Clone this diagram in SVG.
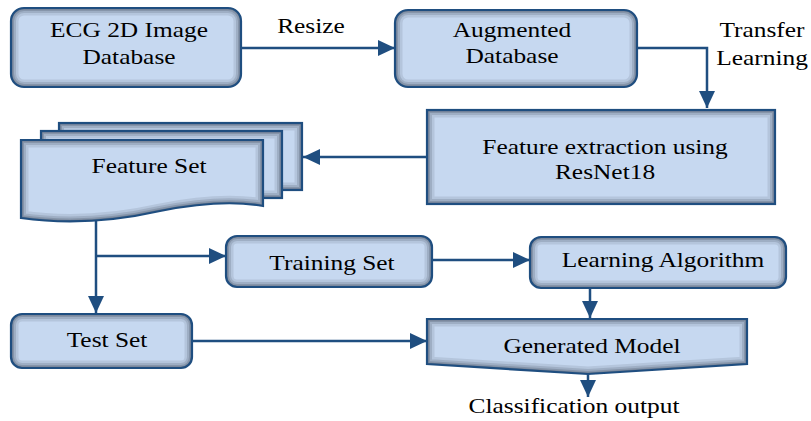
<svg xmlns="http://www.w3.org/2000/svg" width="811" height="421" viewBox="0 0 811 421">
<style>
.f{fill:#c6d8f0;stroke:none}
.e{fill:none;stroke:#1f4e80;stroke-width:2.2}
.s1{fill:none;stroke:#3c4656;stroke-width:15;stroke-opacity:0.13}
.s2{fill:none;stroke:#3c4656;stroke-width:10;stroke-opacity:0.18}
.s3{fill:none;stroke:#3c4656;stroke-width:6;stroke-opacity:0.24}
.s4{fill:none;stroke:#3c4656;stroke-width:3;stroke-opacity:0.3}
.t{font-family:"Liberation Serif","Times New Roman",serif;font-size:21px;fill:#000;text-anchor:middle}
.c{fill:none;stroke:#1f4e80;stroke-width:2.5}
.a{marker-end:url(#ah)}
</style>
<defs>
<rect id="g1" x="11" y="8" width="230" height="79" rx="13"/>
<rect id="g2" x="395" y="10" width="242" height="77" rx="13"/>
<rect id="g3" x="427" y="110" width="348" height="94"/>
<rect id="g4a" x="59" y="123" width="243" height="67"/>
<rect id="g4b" x="41" y="131" width="241" height="67"/>
<path id="g4c" d="M21,140 H263 V206 C235,201 200,203 160,211 C120,220 70,225 21,218 Z"/>
<rect id="g5" x="226" y="236" width="206" height="51" rx="11"/>
<rect id="g6" x="530" y="237" width="256" height="51" rx="11"/>
<rect id="g7" x="11" y="314" width="181" height="54" rx="11"/>
<path id="g8" d="M427,319 H747 V364 L588,374 L427,364 Z"/>
<clipPath id="c1"><use href="#g1"/></clipPath>
<clipPath id="c2"><use href="#g2"/></clipPath>
<clipPath id="c3"><use href="#g3"/></clipPath>
<clipPath id="c4a"><use href="#g4a"/></clipPath>
<clipPath id="c4b"><use href="#g4b"/></clipPath>
<clipPath id="c4c"><use href="#g4c"/></clipPath>
<clipPath id="c5"><use href="#g5"/></clipPath>
<clipPath id="c6"><use href="#g6"/></clipPath>
<clipPath id="c7"><use href="#g7"/></clipPath>
<clipPath id="c8"><use href="#g8"/></clipPath>
<marker id="ah" markerUnits="userSpaceOnUse" markerWidth="17" markerHeight="16" refX="17" refY="8" orient="auto">
<path d="M0,0 L17,8 L0,16 Z" fill="#1f4e80"/>
</marker>
</defs>

<g id="connectors">
<path class="c a" d="M241,48 H395"/>
<path class="c a" d="M637,48 H707 V108"/>
<path class="c a" d="M427,157 H303"/>
<path class="c a" d="M96,220 V313"/>
<path class="c a" d="M96,256 H226"/>
<path class="c a" d="M432,260 H530"/>
<path class="c a" d="M590,288 V318"/>
<path class="c a" d="M192,341 H427"/>
<path class="c a" d="M588,374 V397"/>
</g>

<g id="n-ecg">
<use href="#g1" class="f"/>
<g clip-path="url(#c1)"><use href="#g1" class="s1"/><use href="#g1" class="s2"/><use href="#g1" class="s3"/><use href="#g1" class="s4"/></g>
<use href="#g1" class="e"/>
<text class="t" transform="translate(129,37) scale(1.21,1)">ECG 2D Image</text>
<text class="t" transform="translate(129,64) scale(1.21,1)">Database</text>
</g>

<g id="n-aug">
<use href="#g2" class="f"/>
<g clip-path="url(#c2)"><use href="#g2" class="s1"/><use href="#g2" class="s2"/><use href="#g2" class="s3"/><use href="#g2" class="s4"/></g>
<use href="#g2" class="e"/>
<text class="t" transform="translate(512,37) scale(1.21,1)">Augmented</text>
<text class="t" transform="translate(512,63) scale(1.21,1)">Database</text>
</g>

<g id="lbl-resize">
<text class="t" transform="translate(311,33) scale(1.21,1)">Resize</text>
</g>
<g id="lbl-transfer">
<text class="t" transform="translate(762,37) scale(1.21,1)">Transfer</text>
<text class="t" transform="translate(762,65) scale(1.21,1)">Learning</text>
</g>

<g id="n-feat">
<use href="#g3" class="f"/>
<g clip-path="url(#c3)"><use href="#g3" class="s1"/><use href="#g3" class="s2"/><use href="#g3" class="s3"/><use href="#g3" class="s4"/></g>
<use href="#g3" class="e"/>
<text class="t" transform="translate(605,154) scale(1.21,1)">Feature extraction using</text>
<text class="t" transform="translate(605,179) scale(1.21,1)">ResNet18</text>
</g>

<g id="n-featset">
<use href="#g4a" class="f"/>
<g clip-path="url(#c4a)"><use href="#g4a" class="s1"/><use href="#g4a" class="s2"/><use href="#g4a" class="s3"/><use href="#g4a" class="s4"/></g>
<use href="#g4a" class="e"/>
<use href="#g4b" class="f"/>
<g clip-path="url(#c4b)"><use href="#g4b" class="s1"/><use href="#g4b" class="s2"/><use href="#g4b" class="s3"/><use href="#g4b" class="s4"/></g>
<use href="#g4b" class="e"/>
<use href="#g4c" class="f"/>
<g clip-path="url(#c4c)"><use href="#g4c" class="s1"/><use href="#g4c" class="s2"/><use href="#g4c" class="s3"/><use href="#g4c" class="s4"/></g>
<use href="#g4c" class="e"/>
<text class="t" transform="translate(149,173) scale(1.21,1)">Feature Set</text>
</g>

<g id="n-train">
<use href="#g5" class="f"/>
<g clip-path="url(#c5)"><use href="#g5" class="s1"/><use href="#g5" class="s2"/><use href="#g5" class="s3"/><use href="#g5" class="s4"/></g>
<use href="#g5" class="e"/>
<text class="t" transform="translate(332,270) scale(1.21,1)">Training Set</text>
</g>

<g id="n-learn">
<use href="#g6" class="f"/>
<g clip-path="url(#c6)"><use href="#g6" class="s1"/><use href="#g6" class="s2"/><use href="#g6" class="s3"/><use href="#g6" class="s4"/></g>
<use href="#g6" class="e"/>
<text class="t" transform="translate(663,267) scale(1.21,1)">Learning Algorithm</text>
</g>

<g id="n-test">
<use href="#g7" class="f"/>
<g clip-path="url(#c7)"><use href="#g7" class="s1"/><use href="#g7" class="s2"/><use href="#g7" class="s3"/><use href="#g7" class="s4"/></g>
<use href="#g7" class="e"/>
<text class="t" transform="translate(107,347) scale(1.21,1)">Test Set</text>
</g>

<g id="n-model">
<use href="#g8" class="f"/>
<g clip-path="url(#c8)"><use href="#g8" class="s1"/><use href="#g8" class="s2"/><use href="#g8" class="s3"/><use href="#g8" class="s4"/></g>
<use href="#g8" class="e"/>
<text class="t" transform="translate(592,353) scale(1.21,1)">Generated Model</text>
</g>

<g id="lbl-output">
<text class="t" transform="translate(574,413) scale(1.21,1)">Classification output</text>
</g>
</svg>
